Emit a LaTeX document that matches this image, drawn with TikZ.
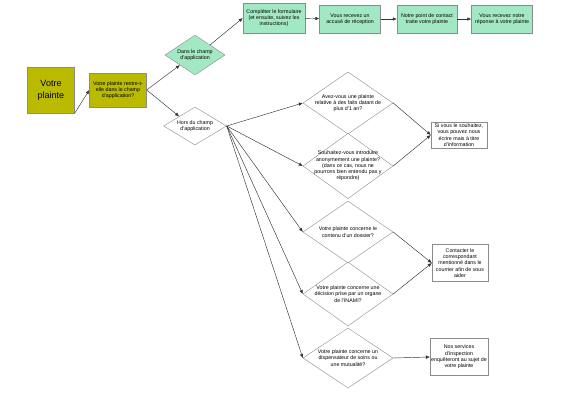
\documentclass[tikz,border=0pt]{standalone}
\usepackage{fontspec}
\setmainfont{Liberation Sans}
\usetikzlibrary{shapes.geometric,arrows.meta}
\definecolor{olive}{HTML}{BABA00}
\definecolor{mint}{HTML}{A3E8C4}
\begin{document}
\begin{tikzpicture}[x=1pt, y=-1pt,
    every node/.style={font=\fontsize{5.3}{6.3}\selectfont, align=center},
    box/.style={draw=black!45, rectangle, inner sep=1pt},
    greenbox/.style={box, fill=mint},
    whitebox/.style={box, fill=white},
    choice/.style={draw=black!45, diamond, inner sep=-8pt},
    link/.style={draw=black!80, line width=0.45pt, -{Latex[length=4pt,width=3.5pt]}}]
  \useasboundingbox (0,0) rectangle (566,400);
  \node[box, fill=olive, minimum width=47pt, minimum height=46pt,
    font=\fontsize{9}{12}\selectfont] (plainte) at (51,90) {Votre\\plainte};
  \node[box, fill=olive, minimum width=57pt, minimum height=34pt] (champ) at (118,90)
    {Votre plainte rentre-t-\\elle dans le champ\\d'application?};
  \node[choice, fill=mint, minimum width=60pt, minimum height=40pt] (dans) at (195,55)
    {Dans le champ\\d'application};
  \node[choice, fill=white, minimum width=63pt, minimum height=38pt] (hors) at (195,126)
    {Hors du champ\\d'application};
  \node[greenbox, minimum width=62pt, minimum height=30pt] (form) at (274,18)
    {Compléter le formulaire\\(et ensuite, suivez les\\instructions)};
  \node[greenbox, minimum width=61pt, minimum height=28pt] (accuse) at (350,19)
    {Vous recevez un\\accusé de réception};
  \node[greenbox, minimum width=60pt, minimum height=28pt] (traite) at (427,19)
    {Notre point de contact\\traite votre plainte};
  \node[greenbox, minimum width=61pt, minimum height=28pt] (reponse) at (502,19)
    {Vous recevez notre\\réponse à votre plainte};
  \node[choice, minimum width=90pt, minimum height=62pt] (delai) at (348,103)
    {Avez-vous une plainte\\relative à des faits datant de\\plus d'1 an?};
  \node[choice, minimum width=90pt, minimum height=64pt] (anonyme) at (348,166)
    {Souhaitez-vous introduire\\anonymement une plainte?\\(dans ce cas, nous ne\\pourrons bien entendu pas y\\répondre)};
  \node[choice, minimum width=90pt, minimum height=62pt] (dossier) at (348,232)
    {Votre plainte concerne le\\contenu d'un dossier?};
  \node[choice, minimum width=90pt, minimum height=64pt] (organe) at (348,294)
    {Votre plainte concerne une\\décision prise par un organe\\de l'INAMI?};
  \node[choice, minimum width=90pt, minimum height=60pt] (soins) at (348,358)
    {Votre plainte concerne un\\dispensateur de soins ou\\une mutualité?};
  \node[whitebox, minimum width=56pt, minimum height=26pt] (info) at (459,135)
    {Si vous le souhaitez,\\vous pouvez nous\\écrire mais à titre\\d'information};
  \node[whitebox, minimum width=56pt, minimum height=37pt] (corresp) at (460,263)
    {Contacter le\\correspondant\\mentionné dans le\\courrier afin de vous\\aider};
  \node[whitebox, minimum width=57pt, minimum height=37pt] (inspect) at (459,357)
    {Nos services\\d'inspection\\enquêteront au sujet de\\votre plainte};
  \draw[link] (plainte.south east) -- (champ.west);
  \draw[link] (champ.east) -- (dans.south west);
  \draw[link] (champ.east) -- (hors.north west);
  \draw[link] (dans.north east) -- (form.west);
  \draw[link] (form) -- (accuse);
  \draw[link] (accuse) -- (traite);
  \draw[link] (traite) -- (reponse);
  \foreach \q in {delai,anonyme,dossier,organe,soins}
    \draw[link] (hors.east) -- (\q.west);
  \draw[link] (delai.east) -- (info.west);
  \draw[link] (anonyme.east) -- (info.west);
  \draw[link] (dossier.east) -- (corresp.west);
  \draw[link] (organe.east) -- (corresp.west);
  \draw[link] (soins.east) -- (inspect.west);
\end{tikzpicture}
\end{document}
